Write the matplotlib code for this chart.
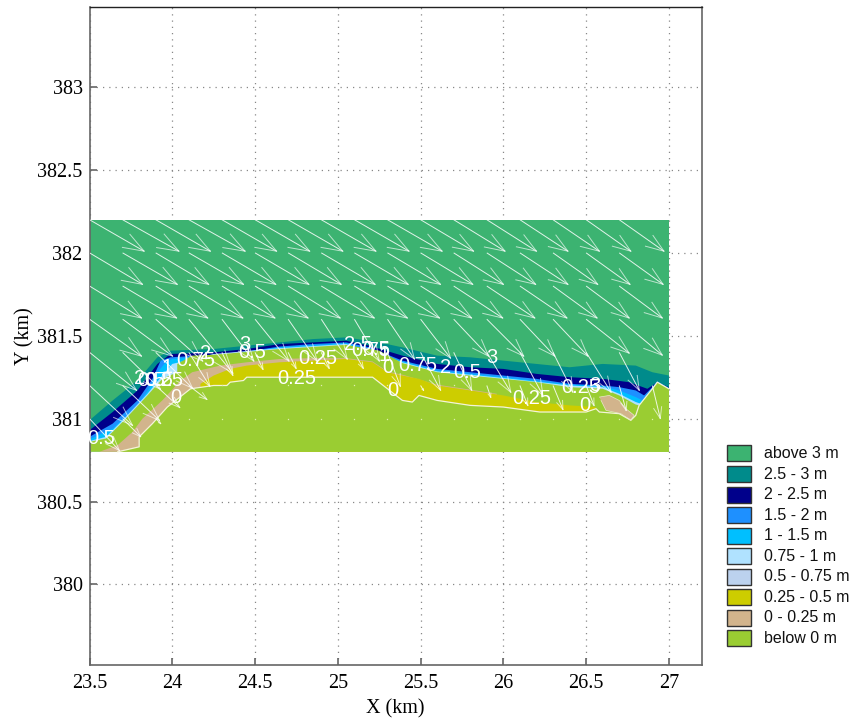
import numpy as np
import matplotlib
matplotlib.use('Agg')
import matplotlib.pyplot as plt
from matplotlib.patches import Rectangle

W, H = 852, 718

# legend
legend_labels = ['above 3 m', '2.5 - 3 m', '2 - 2.5 m', '1.5 - 2 m', '1 - 1.5 m',
                 '0.75 - 1 m', '0.5 - 0.75 m', '0.25 - 0.5 m', '0 - 0.25 m', 'below 0 m']
legend_colors = ['#3CB371', '#008B8B', '#00008B', '#1E90FF', '#00BFFF',
                 '#B0E2FF', '#BCD2EE', '#CDCD00', '#D2B48C', '#9ACD32']

# depth band upper edges, km
teal_x = [23.5, 23.64, 23.79, 23.91, 23.99, 24.25, 24.45, 24.65, 24.85, 25.05, 25.25, 25.39, 25.6, 25.8, 26.0, 26.2, 26.4, 26.6, 26.8, 26.9, 27.0]
teal_y = [380.99, 381.11, 381.23, 381.37, 381.41, 381.42, 381.44, 381.46, 381.48, 381.49, 381.46, 381.43, 381.38, 381.37, 381.35, 381.33, 381.31, 381.33, 381.32, 381.28, 381.26]
navy_x = [23.5, 23.64, 23.79, 23.91, 23.99, 24.25, 24.45, 24.65, 24.85, 25.05, 25.19, 25.39, 25.6, 25.8, 26.0, 26.2, 26.4, 26.6, 26.76, 26.87, 26.93, 27.0]
navy_y = [380.93, 381.04, 381.17, 381.33, 381.39, 381.40, 381.42, 381.45, 381.46, 381.47, 381.44, 381.38, 381.33, 381.31, 381.30, 381.27, 381.25, 381.24, 381.22, 381.18, 381.22, 381.19]
blue_x = [23.5, 23.64, 23.79, 23.88, 23.93, 23.99, 24.25, 24.45, 24.65, 24.85, 25.05, 25.19, 25.39, 25.6, 25.8, 26.0, 26.2, 26.4, 26.6, 26.7, 26.8, 26.85, 26.9, 26.93, 27.0]
blue_y = [380.89, 380.97, 381.11, 381.24, 381.35, 381.37, 381.385, 381.405, 381.435, 381.45, 381.46, 381.43, 381.35, 381.30, 381.28, 381.26, 381.24, 381.21, 381.20, 381.19, 381.17, 381.14, 381.19, 381.225, 381.185]
sky_x = [23.5, 23.64, 23.79, 23.86, 23.92, 23.96, 24.0, 24.25, 24.65, 25.05, 25.39, 25.6, 26.0, 26.4, 26.6, 26.7, 26.8, 26.84, 26.9, 26.93, 27.0]
sky_y = [380.875, 380.94, 381.08, 381.18, 381.29, 381.34, 381.36, 381.38, 381.43, 381.455, 381.345, 381.29, 381.25, 381.205, 381.195, 381.17, 381.13, 381.11, 381.185, 381.222, 381.183]
pale_x = [23.5, 23.6, 23.7, 23.85, 23.94, 24.0, 24.25, 24.65, 25.05, 25.39, 25.6, 26.0, 26.4, 26.6, 26.7, 26.8, 26.83, 26.9, 27.0]
pale_y = [380.865, 380.89, 380.99, 381.15, 381.26, 381.33, 381.39, 381.425, 381.45, 381.34, 381.285, 381.245, 381.20, 381.19, 381.15, 381.10, 381.09, 381.18, 381.18]
bar_x = [23.5, 23.6, 23.7, 23.85, 23.94, 24.03, 24.03, 24.12, 24.25, 24.65, 25.05, 25.25, 25.39, 25.6, 25.8, 26.0, 26.2, 26.4, 26.6, 26.7, 26.8, 26.82, 26.9, 26.93, 27.0]
bar_y = [380.86, 380.88, 380.98, 381.14, 381.24, 381.28, 381.33, 381.38, 381.385, 381.42, 381.445, 381.41, 381.335, 381.28, 381.26, 381.24, 381.22, 381.19, 381.18, 381.14, 381.085, 381.08, 381.18, 381.22, 381.18]
tan_x = [23.56, 23.67, 23.76, 23.82, 23.94, 24.05, 24.12, 24.29, 24.45, 24.65, 24.85, 25.05, 25.21, 25.30, 25.39, 25.6, 25.8, 25.96]
tan_y = [380.80, 380.84, 380.92, 381.0, 381.11, 381.23, 381.28, 381.32, 381.34, 381.36, 381.365, 381.365, 381.345, 381.285, 381.265, 381.205, 381.175, 381.15]
patch_x = [26.58, 26.64, 26.70, 26.74, 26.79, 26.77, 26.71, 26.62, 26.59]
patch_y = [381.13, 381.14, 381.11, 381.06, 381.02, 380.99, 381.03, 381.05, 381.11]
yellow_x = [24.17, 24.25, 24.35, 24.45, 24.65, 24.85, 25.05, 25.21, 25.30, 25.39, 25.49, 25.6, 25.8, 26.0, 26.2, 26.4, 26.56]
yellow_y = [381.21, 381.26, 381.30, 381.32, 381.34, 381.35, 381.36, 381.34, 381.28, 381.26, 381.24, 381.20, 381.17, 381.14, 381.10, 381.08, 381.07]
land_x = [23.67, 23.80, 23.80, 23.88, 23.97, 24.11, 24.25, 24.33, 24.35, 24.43, 24.45, 25.21, 25.30, 25.39, 25.45, 25.49, 25.60, 25.80, 26.0, 26.22, 26.50, 26.56, 26.58, 26.70, 26.77, 26.80, 26.82, 26.90, 26.93, 27.0]
land_y = [380.80, 380.83, 380.89, 380.97, 381.07, 381.18, 381.20, 381.20, 381.22, 381.23, 381.25, 381.25, 381.18, 381.11, 381.10, 381.14, 381.11, 381.08, 381.07, 381.04, 381.04, 381.06, 381.04, 381.03, 380.99, 381.02, 381.08, 381.18, 381.22, 381.18]

# wave vectors, km, by row
cols = [23.5, 23.7, 23.9, 24.1, 24.3, 24.5, 24.7, 24.9, 25.1, 25.3, 25.5, 25.7, 25.9, 26.1, 26.3, 26.5, 26.7, 26.9]
rows = [382.2, 382.0, 381.8, 381.6, 381.4, 381.2, 381.0]
u_rows = [
    [.33, .34, .33, .34, .33, .33, .33, .33, .33, .33, .32, .31, .30, .29, .28, .27, .27],
    [.32, .33, .32, .33, .325, .325, .32, .325, .325, .32, .315, .30, .295, .29, .27, .265, .265],
    [.314, .326, .314, .326, .32, .32, .314, .32, .32, .314, .308, .296, .29, .284, .266, .26, .26],
    [.314, .302, .284, .266, .193, .205, .175, .157, .151, .163, .181, .211, .223, .211, .211, .26, .26],
    [.284, .229, .223, .127, .066, .048, .048, .048, .054, .078, .121, .109, .145, .139, .121, .151, .121],
    [.26, .223, .145, .109, 0, 0, 0, 0, 0, 0, .018, 0, .024, .048, .06, .048, .042, .048],
    [.181, .109, .03, 0, 0, 0, 0, 0, 0, 0, 0, 0, 0, 0, 0, 0, 0, 0],
]
v_rows = [
    [-.19, -.19, -.19, -.19, -.19, -.19, -.19, -.19, -.19, -.19, -.19, -.19, -.19, -.19, -.19, -.19, -.19],
    [-.19, -.19, -.19, -.19, -.19, -.19, -.19, -.19, -.19, -.19, -.19, -.19, -.19, -.19, -.19, -.19, -.19],
    [-.193, -.193, -.193, -.193, -.193, -.193, -.193, -.193, -.193, -.193, -.193, -.193, -.193, -.193, -.193, -.193, -.193],
    [-.223, -.223, -.253, -.326, -.253, -.253, -.253, -.241, -.253, -.241, -.235, -.223, -.223, -.223, -.223, -.205, -.217],
    [-.229, -.223, -.217, -.205, -.139, -.103, -.097, -.097, -.097, -.205, -.229, -.229, -.241, -.26, -.241, -.241, -.229],
    [-.241, -.211, -.133, -.084, 0, 0, 0, 0, 0, 0, -.03, 0, -.072, -.121, -.145, -.121, -.151, -.199],
    [-.193, -.109, -.03, 0, 0, 0, 0, 0, 0, 0, 0, 0, 0, 0, 0, 0, 0, 0],
]

# contour labels
label_text = ['3', '0.5', '2', '0.75', '2', '0.5', '0.5', '0.25', '1', '0', '0.25', '0.25', '2.5', '0.75',
              '0.5', '1', '0', '0', '0.75', '2', '0.5', '3', '0.25', '0.25', '3', '0', '0.5']
label_x = [24.44, 24.48, 24.2, 24.14, 23.8, 23.87, 23.92, 23.95, 23.97, 24.02, 24.88, 24.75, 25.12, 25.2,
           25.23, 25.28, 25.30, 25.33, 25.48, 25.65, 25.78, 25.93, 26.17, 26.47, 26.55, 26.49, 23.57]
label_y = [381.45, 381.40, 381.39, 381.35, 381.24, 381.23, 381.23, 381.23, 381.31, 381.13, 381.36, 381.24, 381.45, 381.41,
           381.42, 381.38, 381.31, 381.17, 381.32, 381.31, 381.28, 381.37, 381.12, 381.19, 381.2, 381.08, 380.88]

x_ticks = [23.5, 24, 24.5, 25, 25.5, 26, 26.5, 27]
x_labels = ['23.5', '24', '24.5', '25', '25.5', '26', '26.5', '27']
y_ticks = [380, 380.5, 381, 381.5, 382, 382.5, 383]
y_labels = ['380', '380.5', '381', '381.5', '382', '382.5', '383']

serif = 'Liberation Serif'
sans = 'Liberation Sans'

fig = plt.figure(figsize=(W / 100, H / 100), dpi=100)
ax = fig.add_axes([89.5 / W, 1 - 664.5 / H, (702 - 89.5) / W, (664.5 - 7) / H])
ax.set_xlim(23.5, 27.2)
ax.set_ylim(379.517, 383.483)

bottom = 380.8
ax.add_patch(Rectangle((23.5, bottom), 3.5, 382.2 - bottom, fc=legend_colors[0], ec='none', zorder=1))


def band(x, y, color, z):
    ax.fill(list(x) + [x[-1], x[0]], list(y) + [bottom, bottom], color=color, lw=0, zorder=z)


band(teal_x, teal_y, legend_colors[1], 1.1)
band(navy_x, navy_y, legend_colors[2], 1.2)
band(blue_x, blue_y, legend_colors[3], 1.3)
band(sky_x, sky_y, legend_colors[4], 1.4)
band(pale_x, pale_y, legend_colors[5], 1.5)
band(bar_x, bar_y, legend_colors[9], 1.6)
band(tan_x, tan_y, legend_colors[8], 1.7)
band(yellow_x, yellow_y, legend_colors[7], 1.8)
band(land_x, land_y, legend_colors[9], 1.9)
ax.fill(patch_x, patch_y, color=legend_colors[8], lw=0, zorder=2)

# contour lines
ax.plot(land_x, land_y, color='#f4f4d8', lw=0.9, zorder=2.1)
ax.plot(patch_x, patch_y, color='#e8e8c8', lw=0.5, zorder=2.1)

# arrows, open head scaled with the length
ang = np.deg2rad(20)
for yy, us, vs in zip(rows, u_rows, v_rows):
    for xx, u, v in zip(cols, us, vs):
        if u == 0 and v == 0:
            ax.plot([xx], [yy], 's', color='#dfeeb0', ms=0.9, mew=0, zorder=3)
            continue
        tx, ty = xx + u, yy + v
        ax.plot([xx, tx], [yy, ty], color='white', lw=0.7, alpha=0.85, zorder=3, solid_capstyle='butt')
        for a in (ang, -ang):
            bx = -0.35 * (u * np.cos(a) - v * np.sin(a))
            by = -0.35 * (u * np.sin(a) + v * np.cos(a))
            ax.plot([tx, tx + bx], [ty, ty + by], color='white', lw=0.7, alpha=0.65, zorder=3)

for t, x, y in zip(label_text, label_x, label_y):
    ax.text(x, y, t, color='white', family=sans, fontsize=14.5, ha='center', va='center', zorder=4)

ax.set_xticks(x_ticks)
ax.set_xticklabels(x_labels)
ax.set_yticks(y_ticks)
ax.set_yticklabels(y_labels)
ax.grid(True, color='#888888', ls=(0, (1, 4)), lw=0.9, zorder=0)
ax.set_axisbelow(True)
ax.tick_params(direction='in', length=5, width=1.2, color='#666666', labelsize=14.5)
ax.tick_params(axis='x', pad=7)
ax.tick_params(axis='y', pad=5)
for lab in ax.get_xticklabels() + ax.get_yticklabels():
    lab.set_family(serif)
ax.set_xlabel('X (km)', family=serif, fontsize=14.5, labelpad=4)
ax.set_ylabel('Y (km)', family=serif, fontsize=14.5, labelpad=2)
for s in ('left', 'bottom', 'right'):
    ax.spines[s].set_color('#666666')
    ax.spines[s].set_linewidth(1.2)
ax.spines['top'].set_color('#222222')
ax.spines['top'].set_linewidth(1.0)

# legend
for i, (lab, c) in enumerate(zip(legend_labels, legend_colors)):
    yc = 453.5 + i * 20.55
    fig.add_artist(Rectangle((727 / W, 1 - (yc + 8) / H), 24 / W, 16 / H, fc=c, ec='#333333', lw=1.0,
                             transform=fig.transFigure))
    fig.text(764 / W, 1 - yc / H, lab, family=sans, fontsize=11.5, color='#111111', va='center', ha='left')

fig.savefig('out.png', dpi=100)
